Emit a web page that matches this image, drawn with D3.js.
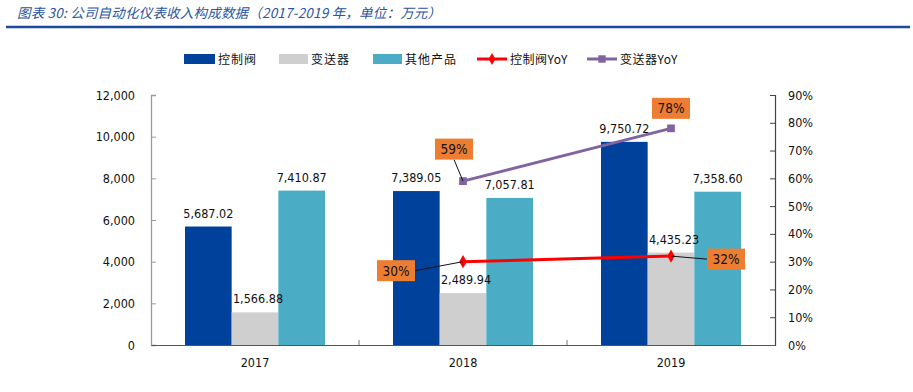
<!DOCTYPE html>
<html><head><meta charset="utf-8">
<script src="https://cdn.jsdelivr.net/npm/d3@7/dist/d3.min.js"></script>
<style>
body{margin:0;background:#fff;}
svg{display:block;}
.num{font-family:"DejaVu Sans Condensed","DejaVu Sans",sans-serif;}
</style></head>
<body><svg id="c" width="913" height="392"></svg>
<script>
const title = "图表 30: 公司自动化仪表收入构成数据（2017-2019 年，单位：万元）";
const years = ["2017", "2018", "2019"];
const seriesNames = ["控制阀", "变送器", "其他产品"];
const valve = [5687.02, 7389.05, 9750.72];
const transmitter = [1566.88, 2489.94, 4435.23];
const others = [7410.87, 7057.81, 7358.60];
const lineNames = ["控制阀YoY", "变送器YoY"];
const valveYoY = [null, 30, 32];
const transmitterYoY = [null, 59, 78];
const leftTicks = [0, 2000, 4000, 6000, 8000, 10000, 12000];
const rightTicks = [0, 10, 20, 30, 40, 50, 60, 70, 80, 90];

const colors = {"控制阀":"#00419b","变送器":"#d0cfd0","其他产品":"#4bacc6"};
const lineColors = {"控制阀YoY":"#ff0000","变送器YoY":"#8064a2"};
const orange = "#ed7d31";

const svg = d3.select("#c");

// title
svg.append("text").attr("x", 17).attr("y", 18)
  .attr("font-family", "'Noto Sans CJK SC', sans-serif").attr("font-style", "italic")
  .attr("font-size", 13.5).attr("letter-spacing", 0.2).attr("fill", "#2b55a0").text(title);
svg.append("line").attr("x1", 6).attr("x2", 910).attr("y1", 27).attr("y2", 27)
  .attr("stroke", "#1a4a9c").attr("stroke-width", 2.5);

const x = d3.scaleBand().domain(years).range([151, 775]).padding(0);
const xs = d3.scaleBand().domain(seriesNames).range([34, 174]).padding(0);
const yL = d3.scaleLinear().domain([0, 12000]).range([345, 95]);
const yR = d3.scaleLinear().domain([0, 90]).range([345, 95]);

const barData = [];
years.forEach((yr, i) => {
  barData.push({yr, s: "控制阀", v: valve[i]});
  barData.push({yr, s: "变送器", v: transmitter[i]});
  barData.push({yr, s: "其他产品", v: others[i]});
});

// axes
const gL = svg.append("g").attr("transform", "translate(151,0)")
  .call(d3.axisLeft(yL).tickValues(leftTicks).tickFormat(d3.format(",")).tickSize(-5).tickPadding(16));
gL.select(".domain").attr("stroke", "#9a9a9a").attr("stroke-width", 1.3);
gL.selectAll(".tick line").attr("stroke", "#9a9a9a");
gL.selectAll("text").attr("class", "num").attr("font-size", 12.5).attr("fill", "#111");

const gR = svg.append("g").attr("transform", "translate(775,0)")
  .call(d3.axisRight(yR).tickValues(rightTicks).tickFormat(d => d + "%").tickSize(-5).tickPadding(13));
gR.select(".domain").attr("stroke", "#444").attr("stroke-width", 1.2);
gR.selectAll(".tick line").attr("stroke", "#444");
gR.selectAll("text").attr("class", "num").attr("font-size", 12.5).attr("fill", "#111");

// bars
svg.append("g").selectAll("rect").data(barData).join("rect")
  .attr("x", d => x(d.yr) + xs(d.s))
  .attr("width", xs.bandwidth())
  .attr("y", d => yL(d.v))
  .attr("height", d => yL(0) - yL(d.v))
  .attr("fill", d => colors[d.s]);

// x axis
const gX = svg.append("g").attr("transform", "translate(0,345)")
  .call(d3.axisBottom(x).tickSize(0).tickPadding(13));
gX.select(".domain").attr("stroke", "#555").attr("stroke-width", 1.2);
gX.selectAll("text").attr("class", "num").attr("font-size", 12.5).attr("fill", "#111");
svg.append("g").selectAll("line").data(years.slice(1)).join("line")
  .attr("x1", d => x(d)).attr("x2", d => x(d)).attr("y1", 345).attr("y2", 340)
  .attr("stroke", "#777");

// bar labels
svg.append("g").selectAll("text").data(barData).join("text")
  .attr("class", "num")
  .attr("x", d => x(d.yr) + xs(d.s) + xs.bandwidth() / 2 + (d.s === "变送器" ? 3 : 0))
  .attr("y", d => yL(d.v) - 9)
  .attr("text-anchor", "middle").attr("font-size", 12.5).attr("fill", "#111")
  .text(d => d3.format(",.2f")(d.v));

// lines
const cx = yr => x(yr) + x.bandwidth() / 2;
const lineSets = [
  {name: "控制阀YoY", vals: valveYoY, marker: "diamond"},
  {name: "变送器YoY", vals: transmitterYoY, marker: "square"}
];
const lineGen = d3.line().defined(d => d.v != null).x(d => cx(d.yr)).y(d => yR(d.v));
lineSets.forEach(ls => {
  const pts = years.map((yr, i) => ({yr, v: ls.vals[i]}));
  svg.append("path").datum(pts).attr("d", lineGen).attr("fill", "none")
    .attr("stroke", lineColors[ls.name]).attr("stroke-width", 3);
  const sym = ls.marker === "diamond" ? d3.symbolDiamond : d3.symbolSquare;
  svg.append("g").selectAll("path").data(pts.filter(p => p.v != null)).join("path")
    .attr("transform", p => `translate(${cx(p.yr)},${yR(p.v)})`)
    .attr("d", d3.symbol().type(sym).size(ls.marker === "diamond" ? 50 : 60))
    .attr("fill", lineColors[ls.name]);
});

// orange callouts: offsets from the point
const callouts = [
  {vals: valveYoY, i: 1, dx: -67, dy: 9, lead: "right"},
  {vals: valveYoY, i: 2, dx: 55, dy: 3, lead: "left"},
  {vals: transmitterYoY, i: 1, dx: -9, dy: -32, lead: "bottom"},
  {vals: transmitterYoY, i: 2, dx: 0, dy: -20, lead: "none"}
];
const bw = 38, bh = 21;
callouts.forEach(c => {
  const px = cx(years[c.i]), py = yR(c.vals[c.i]);
  const bx = px + c.dx, by = py + c.dy;
  let lx = null, ly = null;
  if (c.lead === "right") { lx = bx + bw / 2; ly = by; }
  if (c.lead === "left") { lx = bx - bw / 2; ly = by; }
  if (c.lead === "bottom") { lx = bx; ly = by + bh / 2; }
  if (lx !== null) {
    svg.append("line").attr("x1", lx).attr("y1", ly).attr("x2", px).attr("y2", py)
      .attr("stroke", "#111").attr("stroke-width", 1);
  }
  svg.append("rect").attr("x", bx - bw / 2).attr("y", by - bh / 2)
    .attr("width", bw).attr("height", bh).attr("fill", orange);
  svg.append("text").attr("class", "num").attr("x", bx).attr("y", by + 5)
    .attr("text-anchor", "middle").attr("font-size", 13.5).attr("fill", "#111")
    .text(c.vals[c.i] + "%");
});

// legend
const legX = [184, 279, 373, 477, 587];
const legG = svg.append("g");
seriesNames.forEach((s, i) => {
  legG.append("rect").attr("x", legX[i]).attr("y", 54).attr("width", i === 0 ? 31 : 29).attr("height", 10)
    .attr("fill", colors[s]);
  legG.append("text").attr("x", legX[i] + (i === 0 ? 34 : 32)).attr("y", 63.5)
    .attr("font-family", "'Noto Sans CJK SC', sans-serif").attr("font-size", 12)
    .attr("letter-spacing", 1).attr("fill", "#111").text(s);
});
lineNames.forEach((s, j) => {
  const lx = legX[3 + j];
  legG.append("line").attr("x1", lx).attr("x2", lx + 30).attr("y1", 59).attr("y2", 59)
    .attr("stroke", lineColors[s]).attr("stroke-width", 3);
  legG.append("path").attr("transform", `translate(${lx + 15},59)`)
    .attr("d", d3.symbol().type(j === 0 ? d3.symbolDiamond : d3.symbolSquare).size(j === 0 ? 40 : 55))
    .attr("fill", lineColors[s]);
  legG.append("text").attr("x", lx + 33).attr("y", 63.5)
    .attr("font-family", "'Noto Sans CJK SC', sans-serif").attr("font-size", 12)
    .attr("letter-spacing", 0.5).attr("fill", "#111").text(s);
});
</script></body></html>
